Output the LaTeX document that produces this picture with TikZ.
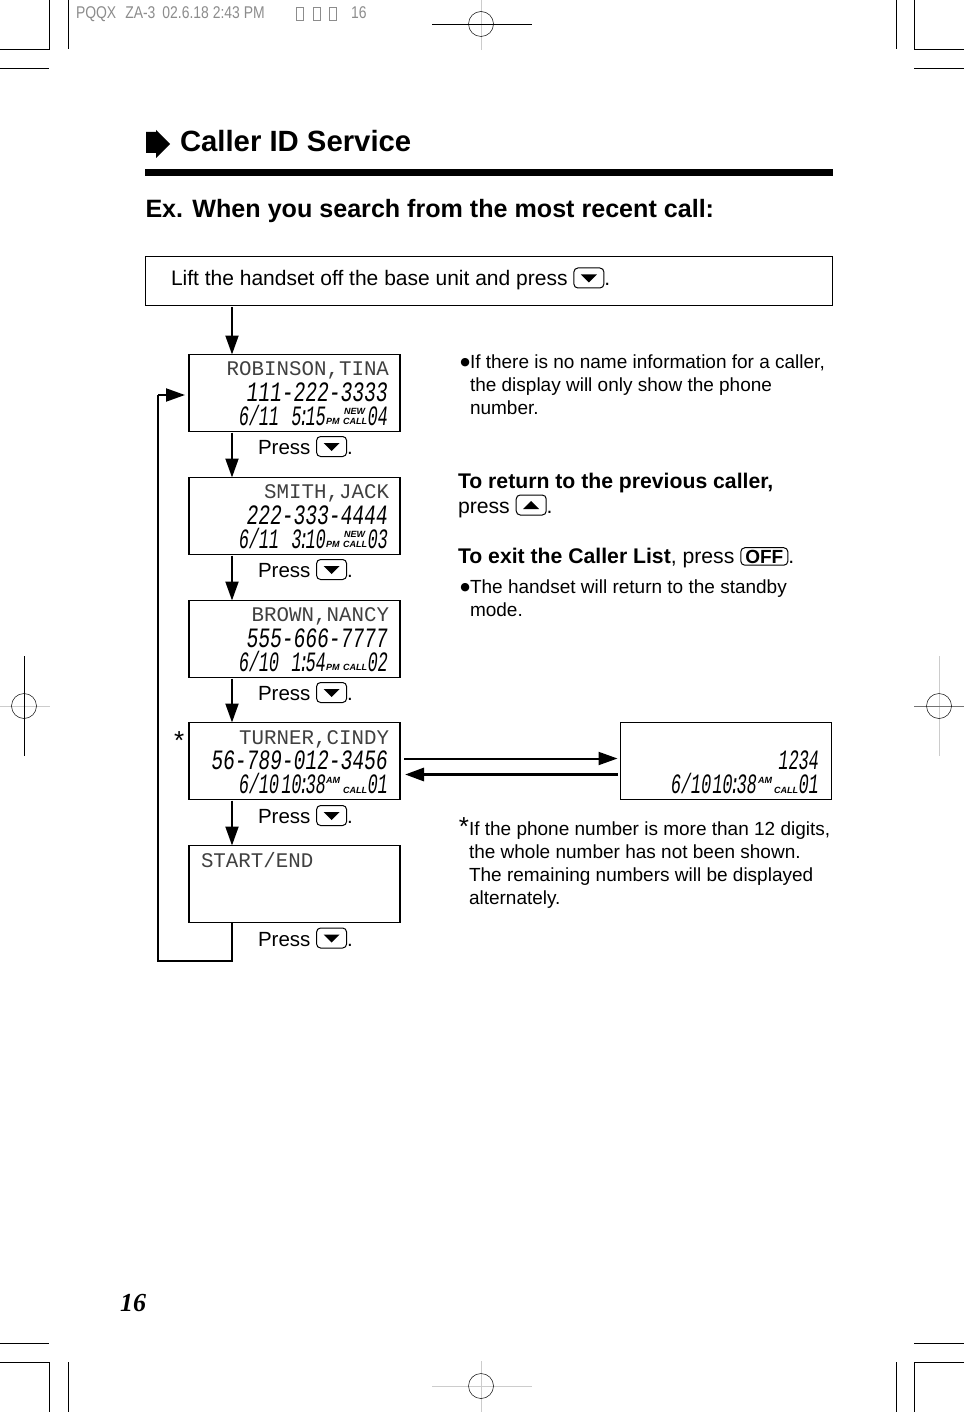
\documentclass[tikz,border=0pt]{standalone}
\usepackage{fontspec}
\setmainfont{Liberation Sans}
\newfontfamily\dejavu{DejaVu Sans}
\newfontfamily\serifbold{Liberation Serif}
\newfontfamily\namefont{Liberation Mono}
\newfontfamily\slugfont[FakeStretch=0.82]{Liberation Sans}
\newfontfamily\lcdfont[FakeStretch=0.7,FakeSlant=0.12]{Liberation Mono}
\newfontfamily\lcdsmall[FakeStretch=0.6,FakeSlant=0.12]{Liberation Mono}
\usetikzlibrary{arrows.meta}
\newcommand{\fsz}[1]{\fontsize{#1}{#1}\selectfont}
\newcommand{\lcdcolon}{\kern-3pt:\kern-3pt}
\newcommand{\bulletmark}{\llap{\raisebox{3pt}{\dejavu\fsz{11}●}}}
\newcommand{\keydown}{\tikz[baseline=2pt,x=1pt,y=1pt]{\draw[rounded corners=4pt,line width=1pt] (0,0) rectangle (30,20); \fill (7,13.5) -- (23,13.5) -- (15,5.5) -- cycle;}}
\newcommand{\keyup}{\tikz[baseline=2pt,x=1pt,y=1pt]{\draw[rounded corners=4pt,line width=1pt] (0,0) rectangle (30,20); \fill (7,6) -- (23,6) -- (15,14) -- cycle;}}
\newcommand{\keyoff}{\tikz[baseline=(off.base)]{\node[draw,rounded corners=4pt,line width=1pt,inner xsep=4.5pt,inner ysep=2pt,font=\fsz{19}\bfseries] (off) {OFF};}}
\tikzset{
  lcd/.style={draw,line width=1.2pt,minimum width=211pt,minimum height=77pt,inner sep=0pt,outer sep=0pt},
  txt/.style={anchor=base west,inner sep=0pt,outer sep=0pt,font=\fsz{20.5},align=left},
  notetxt/.style={txt,font=\fsz{19}},
  head/.style={txt,font=\fsz{29.3}\bfseries},
  nametxt/.style={anchor=base east,inner sep=0pt,outer sep=0pt,text=black!75,font=\namefont\fsz{20.8}},
  numtxt/.style={anchor=base east,inner sep=0pt,outer sep=0pt,font=\lcdfont\fsz{28}},
  timetxt/.style={anchor=base east,inner sep=0pt,outer sep=0pt,font=\lcdsmall\fsz{28}},
  datetxt/.style={anchor=base west,inner sep=0pt,outer sep=0pt,font=\lcdsmall\fsz{28}},
  tagtxt/.style={anchor=base west,inner sep=0pt,outer sep=0pt,font=\fsz{9}\bfseries\itshape},
  cropline/.style={line width=0.9pt},
  faint/.style={line width=0.9pt,black!20},
  link/.style={line width=2pt,->},
}
\begin{document}
\begin{tikzpicture}[x=1pt,y=-1pt,>={Stealth[length=19pt,width=13pt,inset=0pt]}]
  \useasboundingbox (0,0) rectangle (964,1412);

  % Crop marks
  \draw[cropline] (0,49) -- (49,49) -- (49,0);
  \draw[cropline] (68,0) -- (68,49);
  \draw[cropline] (0,68) -- (49,68);
  \draw[cropline] (964,49) -- (914,49) -- (914,0);
  \draw[cropline] (896,0) -- (896,49);
  \draw[cropline] (914,68) -- (964,68);
  \draw[cropline] (0,1362) -- (49,1362) -- (49,1412);
  \draw[cropline] (68,1362) -- (68,1412);
  \draw[cropline] (0,1343) -- (49,1343);
  \draw[cropline] (964,1362) -- (914,1362) -- (914,1412);
  \draw[cropline] (896,1362) -- (896,1412);
  \draw[cropline] (914,1343) -- (964,1343);

  % Registration marks
  \draw[faint] (481,0) -- (481,50);
  \draw[cropline] (432,24) -- (532,24);
  \draw[line width=0.5pt] (481,24) circle (12.5);
  \draw[faint] (0,706) -- (50,706);
  \draw[cropline] (24,656) -- (24,756);
  \draw[line width=0.5pt] (24,706) circle (12.5);
  \draw[faint] (939,656) -- (939,756);
  \draw[line width=0.8pt,black!55] (914,706) -- (964,706);
  \draw[line width=0.5pt] (939,706) circle (12.5);
  \draw[faint] (432,1386) -- (532,1386);
  \draw[faint] (481,1361) -- (481,1412);
  \draw[line width=0.5pt] (481,1386) circle (12.5);

  % Slug line
  \node[txt,text=black!45,font=\slugfont\fsz{17}] (slug) at (76,19) {PQQX\hspace{9pt}ZA-3\hspace{7pt}02.6.18 2:43 PM};
  \draw[line width=0.4pt,black!45] (296,7) rectangle (303,20);
  \draw[line width=0.4pt,black!45] (313,7) rectangle (320,20);
  \draw[line width=0.4pt,black!45] (329,7) rectangle (336,20);
  \node[txt,text=black!45,font=\slugfont\fsz{17}] (slugpage) at (351,19) {16};

  % Heading
  \fill (146,132) -- (156,132) -- (156,130) -- (170,144) -- (156,158) -- (156,153) -- (146,153) -- cycle;
  \node[head] (title) at (180,152) {Caller ID Service};
  \fill (145,169) rectangle (833,176);
  \node[txt,font=\fsz{25.1}\bfseries] (example) at (145.5,218) {Ex. When you search from the most recent call:};

  % First step
  \node[draw,line width=1pt,minimum width=687pt,minimum height=49.5pt,inner sep=0pt,outer sep=0pt] (lift) at (488.5,281) {};
  \node[txt,font=\fsz{21}] (lifttxt) at (171,286) {Lift the handset off the base unit and press \keydown.};

  % Displays
  \node[lcd] (robinson) at (294.5,393) {};
  \node[lcd] (smith) at (294.5,516) {};
  \node[lcd] (brown) at (294.5,639) {};
  \node[lcd] (turner) at (294.5,761) {};
  \node[lcd] (startend) at (294.5,884) {};
  \node[lcd] (extra) at (726,761) {};

  % ROBINSON
  \node[nametxt] (name1) at (389,375) {ROBINSON,TINA};
  \node[numtxt] (num1) at (387,401) {111-222-3333};
  \node[datetxt] (date1) at (238,425) {6/11};
  \node[timetxt] (time1) at (325,425) {5\lcdcolon15};
  \node[tagtxt] (tag1) at (326,424) {PM};
  \node[tagtxt] (new1) at (344,414) {NEW};
  \node[tagtxt] (call1) at (343,424) {CALL};
  \node[timetxt] (count1) at (387,425) {04};

  % SMITH
  \node[nametxt] (name2) at (389,498) {SMITH,JACK};
  \node[numtxt] (num2) at (387,524) {222-333-4444};
  \node[datetxt] (date2) at (238,548) {6/11};
  \node[timetxt] (time2) at (325,548) {3\lcdcolon10};
  \node[tagtxt] (tag2) at (326,547) {PM};
  \node[tagtxt] (new2) at (344,537) {NEW};
  \node[tagtxt] (call2) at (343,547) {CALL};
  \node[timetxt] (count2) at (387,548) {03};

  % BROWN
  \node[nametxt] (name3) at (389,621) {BROWN,NANCY};
  \node[numtxt] (num3) at (387,647) {555-666-7777};
  \node[datetxt] (date3) at (238,671) {6/10};
  \node[timetxt] (time3) at (325,671) {1\lcdcolon54};
  \node[tagtxt] (tag3) at (326,670) {PM};
  \node[tagtxt] (call3) at (343,670) {CALL};
  \node[timetxt] (count3) at (387,671) {02};

  % TURNER
  \node[txt,font=\fsz{26}] (star1) at (174,749) {*};
  \node[nametxt] (name4) at (389,744) {TURNER,CINDY};
  \node[numtxt] (num4) at (387,769) {56-789-012-3456};
  \node[datetxt] (date4) at (238,793) {6/10};
  \node[timetxt] (time4) at (325,793) {10\lcdcolon38};
  \node[tagtxt] (tag4) at (326,783) {AM};
  \node[tagtxt] (call4) at (343,793) {CALL};
  \node[timetxt] (count4) at (387,793) {01};

  % START/END
  \node[txt,text=black!75,font=\namefont\fsz{20.8}] (name5) at (201,867) {START/END};

  % Digits only
  \node[timetxt] (num6) at (818,769) {1234};
  \node[datetxt] (date6) at (670,793) {6/10};
  \node[timetxt] (time6) at (756,793) {10\lcdcolon38};
  \node[tagtxt] (tag6) at (758,783) {AM};
  \node[tagtxt] (call6) at (774,793) {CALL};
  \node[timetxt] (count6) at (818,793) {01};

  % Press labels
  \node[txt] (press1) at (258,454.5) {Press \keydown.};
  \node[txt] (press2) at (258,577.5) {Press \keydown.};
  \node[txt] (press3) at (258,700.5) {Press \keydown.};
  \node[txt] (press4) at (258,823.5) {Press \keydown.};
  \node[txt] (press5) at (258,946) {Press \keydown.};

  % Flow
  \coordinate (top) at (232,307);
  \coordinate (loopa) at (232,961);
  \coordinate (loopb) at (158,961);
  \coordinate (loopc) at (158,395);
  \draw[link] (top) -- (top |- robinson.north);
  \draw[link] ([xshift=-62.5pt,yshift=-1pt]robinson.south) -- ([xshift=-62.5pt]smith.north);
  \draw[link] ([xshift=-62.5pt,yshift=-1pt]smith.south) -- ([xshift=-62.5pt]brown.north);
  \draw[link] ([xshift=-62.5pt,yshift=-1pt]brown.south) -- ([xshift=-62.5pt]turner.north);
  \draw[link] ([xshift=-62.5pt,yshift=-1pt]turner.south) -- ([xshift=-62.5pt]startend.north);
  \draw[link,-] ([xshift=-62.5pt]startend.south) -- (loopa) -- (loopb) -- (loopc);
  \draw[link] (loopc) -- ([xshift=-4pt]loopc -| robinson.west);
  \draw[link] ([xshift=4pt,yshift=2.5pt]turner.east) -- ([xshift=-3pt,yshift=2.5pt]extra.west);
  \draw[link,line width=3pt] ([xshift=-3pt,yshift=-13.5pt]extra.west) -- ([xshift=5pt,yshift=-13.5pt]turner.east);

  % Notes
  \node[notetxt] (note1) at (470,414) {\bulletmark If there is no name information for a caller,\\[4pt]the display will only show the phone\\[4pt]number.};
  \node[txt,font=\fsz{21.2}] (back) at (458,513) {\textbf{To return to the previous caller,}\\[1pt]press \keyup.};
  \node[txt,font=\fsz{21.2}] (exit) at (458,563) {\textbf{To exit the Caller List}, press \keyoff.};
  \node[notetxt] (note2) at (470,616) {\bulletmark The handset will return to the standby\\[4pt]mode.};
  \node[notetxt] (note3) at (469,904) {\llap{\fsz{26}*}If the phone number is more than 12 digits,\\[4pt]the whole number has not been shown.\\[4pt]The remaining numbers will be displayed\\[4pt]alternately.};

  % Page number
  \node[txt,font=\serifbold\fsz{26}\bfseries\itshape] (page) at (120,1311) {16};
\end{tikzpicture}
\end{document}
